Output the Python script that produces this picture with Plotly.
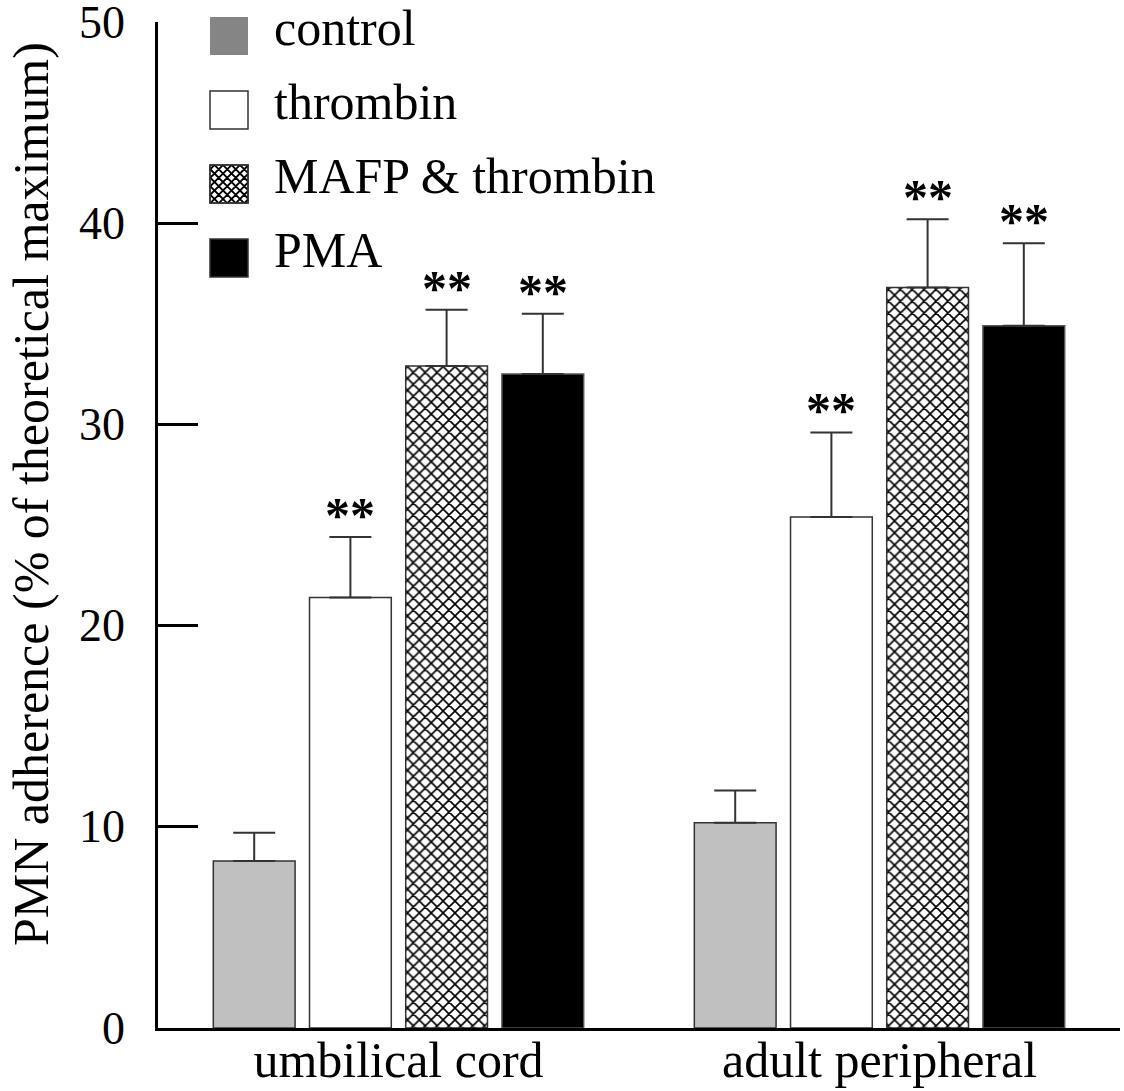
import plotly.graph_objects as go

# ---------------- data ----------------
groups = ["umbilical cord", "adult peripheral"]
series = ["control", "thrombin", "MAFP &amp; thrombin", "PMA"]
control_vals = [8.3, 10.2]
control_err = [1.4, 1.6]
thrombin_vals = [21.4, 25.4]
thrombin_err = [3.0, 4.2]
mafp_vals = [32.9, 36.8]
mafp_err = [2.8, 3.4]
pma_vals = [32.5, 34.9]
pma_err = [3.0, 4.1]
signif = [["", "**", "**", "**"], ["", "**", "**", "**"]]
y_ticks = [0, 10, 20, 30, 40, 50]
y_title = "PMN adherence (% of theoretical maximum)"

values = [control_vals, thrombin_vals, mafp_vals, pma_vals]
errors = [control_err, thrombin_err, mafp_err, pma_err]

# ---------------- styles ----------------
FONT = "Liberation Serif, Times New Roman, serif"
W, H = 1124, 1091
ML, MR, MT, MB = 158, 4, 22, 63
PW, PH = W - ML - MR, H - MT - MB

bar_fill = ["#c0c0c0", "#ffffff", "#ffffff", "#000000"]
bar_line = ["#333333", "#333333", "#333333", "#555555"]
swatch_fill = ["#858585", "#ffffff", "#ffffff", "#000000"]
slot = 0.2
bar_w = 0.17

fig = go.Figure()
for j, (name, vals, errs) in enumerate(zip(series, values, errors)):
    xs = [g + (j - 1.5) * slot for g in range(len(groups))]
    marker = dict(color=bar_fill[j], line=dict(color=bar_line[j], width=1.5))
    if j == 2:
        marker["pattern"] = dict(shape="x", fgcolor="#000000", bgcolor="#ffffff",
                                 size=8.4, solidity=0.35, fillmode="replace")
    fig.add_trace(go.Bar(
        x=xs, y=vals, width=bar_w, name=name, showlegend=False,
        marker=marker,
        error_y=dict(type="data", array=errs, arrayminus=[0] * len(errs),
                     symmetric=False, color="#333333", thickness=2, width=21),
    ))
    for g in range(len(groups)):
        if signif[g][j]:
            fig.add_annotation(x=xs[g], y=vals[g] + errs[g], text="<b>" + signif[g][j] + "</b>",
                               showarrow=False, xanchor="center", yanchor="bottom",
                               yshift=-8, font=dict(family=FONT, size=50, color="black"))


def px2paper(px, py):
    return (px - ML) / PW, (MT + PH - py) / PH


# ---------------- y tick labels ----------------
lx, _ = px2paper(127, 0)
for v in y_ticks:
    fig.add_annotation(xref="paper", yref="y", x=lx, y=v, text=str(v), showarrow=False,
                       xanchor="right", yanchor="middle",
                       font=dict(family=FONT, size=46, color="black"))

# ---------------- custom legend ----------------
sw_x0, sw_size = 210, 38
row_y = [36, 110, 184, 258]
for j, name in enumerate(series):
    cy = row_y[j]
    x0, y0 = px2paper(sw_x0, cy + sw_size / 2)
    x1, y1 = px2paper(sw_x0 + sw_size, cy - sw_size / 2)
    lw = 0 if j == 0 else 1.5
    fig.add_shape(type="rect", xref="paper", yref="paper", x0=x0, x1=x1, y0=y0, y1=y1,
                  fillcolor=swatch_fill[j], line=dict(color="#333333", width=lw))
    if j == 2:
        s = sw_size
        step = 8.5
        segs = []
        c = -s
        while c <= 2 * s:
            for kind in (0, 1):
                pts = []
                for t in [i / 200 * s for i in range(201)]:
                    xx = t
                    yy = (xx - c) if kind == 0 else (c - xx)
                    if 0 <= yy <= s:
                        pts.append((xx, yy))
                if len(pts) >= 2:
                    segs.append((pts[0], pts[-1]))
            c += step
        path = ""
        for (ax, ay), (bx, by) in segs:
            pa = px2paper(sw_x0 + ax, cy - s / 2 + ay)
            pb = px2paper(sw_x0 + bx, cy - s / 2 + by)
            path += f"M{pa[0]},{pa[1]} L{pb[0]},{pb[1]} "
        fig.add_shape(type="path", xref="paper", yref="paper", path=path,
                      line=dict(color="#000000", width=1.8))
        fig.add_shape(type="rect", xref="paper", yref="paper", x0=x0, x1=x1, y0=y0, y1=y1,
                      fillcolor="rgba(0,0,0,0)", line=dict(color="#333333", width=1.5))
    tx, ty = px2paper(272, cy - 8)
    fig.add_annotation(xref="paper", yref="paper", x=tx, y=ty, text=name, showarrow=False,
                       xanchor="left", yanchor="middle",
                       font=dict(family=FONT, size=50, color="black"))

# y-axis title as rotated annotation
tx, ty = px2paper(31, 494)
fig.add_annotation(xref="paper", yref="paper", x=tx, y=ty, text=y_title, showarrow=False,
                   textangle=-90, xanchor="center", yanchor="middle",
                   font=dict(family=FONT, size=50, color="black"))

fig.update_layout(
    width=W, height=H,
    margin=dict(l=ML, r=MR, t=MT, b=MB),
    plot_bgcolor="white", paper_bgcolor="white",
    barmode="overlay", showlegend=False,
    font=dict(family=FONT, color="black"),
    xaxis=dict(range=[-0.5, 1.5], tickvals=list(range(len(groups))), ticktext=groups,
               showline=True, linecolor="black", linewidth=3, ticks="",
               showgrid=False, zeroline=False, tickfont=dict(family=FONT, size=50),
               automargin=False, ticklabelstandoff=-14),
    yaxis=dict(range=[0, 50], tickvals=y_ticks, showline=True, linecolor="black",
               linewidth=3, ticks="inside", ticklen=40, tickwidth=3, tickcolor="black",
               showgrid=False, zeroline=False, showticklabels=False, automargin=False),
)

fig.write_html("out.html")
